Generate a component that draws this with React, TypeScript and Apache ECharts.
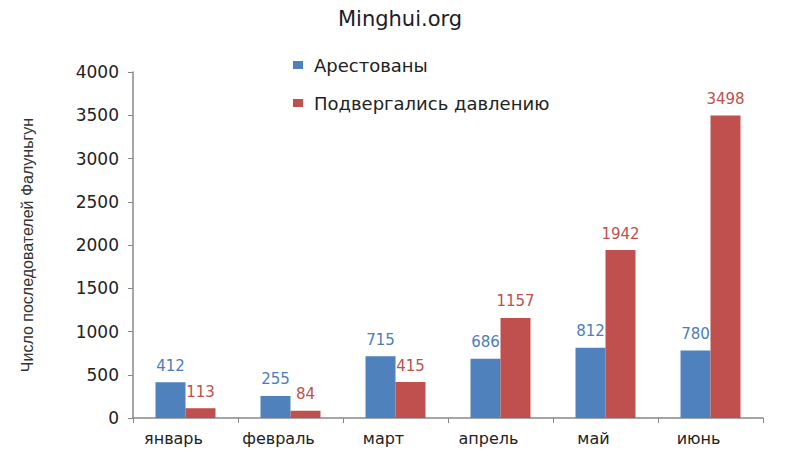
import React, { useEffect, useRef } from "react";
import * as echarts from "echarts";

const months = ["январь", "февраль", "март", "апрель", "май", "июнь"];
const arrested = [412, 255, 715, 686, 812, 780];
const pressured = [113, 84, 415, 1157, 1942, 3498];
const seriesNames = ["Арестованы", "Подвергались давлению"];
const titleText = "Minghui.org";
const yAxisName = "Число последователей Фалуньгун";

export default function App() {
  const ref = useRef<HTMLDivElement>(null);
  useEffect(() => {
    if (!ref.current) return;
    const chart = echarts.init(ref.current, undefined, { renderer: "svg" });
    const labelFont = { fontFamily: "DejaVu Sans", fontSize: 15 };
    chart.setOption({
      animation: false,
      backgroundColor: "#ffffff",
      title: {
        text: titleText,
        left: "center",
        top: 3,
        textStyle: { fontFamily: "DejaVu Sans", fontSize: 21, fontWeight: "normal", color: "#1c1c2a" },
      },
      legend: {
        orient: "vertical",
        left: 288,
        top: 51,
        itemWidth: 10,
        itemHeight: 8,
        itemGap: 20,
        icon: "rect",
        textStyle: { fontFamily: "DejaVu Sans", fontSize: 18, color: "#222222", padding: [0, 0, 0, 6] },
        data: seriesNames,
      },
      grid: { left: 133, right: 37, top: 72, bottom: 32 },
      xAxis: {
        type: "category",
        data: months,
        axisLine: { lineStyle: { color: "#888888", width: 1.5 } },
        axisTick: { show: true, length: 5, lineStyle: { color: "#888888" } },
        axisLabel: {
          fontFamily: "DejaVu Sans",
          fontSize: 16,
          color: "#222222",
          margin: 12,
          padding: [0, 24, 0, 0],
        },
      },
      yAxis: {
        type: "value",
        min: 0,
        max: 4000,
        interval: 500,
        name: yAxisName,
        nameLocation: "middle",
        nameGap: 98,
        nameTextStyle: { fontFamily: "Liberation Sans", fontSize: 16, color: "#333333" },
        axisLine: { show: true, lineStyle: { color: "#888888", width: 1.5 } },
        axisTick: { show: true, length: 5, lineStyle: { color: "#888888" } },
        splitLine: { show: false },
        axisLabel: {
          fontFamily: "DejaVu Sans",
          fontSize: 17,
          color: "#222222",
          margin: 14,
          formatter: (v: number) => String(v),
        },
      },
      series: [
        {
          name: seriesNames[0],
          type: "bar",
          data: arrested,
          barWidth: 30,
          barGap: "0%",
          itemStyle: { color: "#4F81BD" },
          label: { show: true, position: "top", distance: 9, color: "#4A7EBB", ...labelFont },
        },
        {
          name: seriesNames[1],
          type: "bar",
          data: pressured,
          barWidth: 30,
          barGap: "0%",
          itemStyle: { color: "#C0504D" },
          label: { show: true, position: "top", distance: 9, color: "#C0504D", ...labelFont },
        },
      ],
    });
    return () => chart.dispose();
  }, []);
  return <div ref={ref} style={{ width: 800, height: 450, position: "absolute", left: 0, top: 0 }} />;
}
